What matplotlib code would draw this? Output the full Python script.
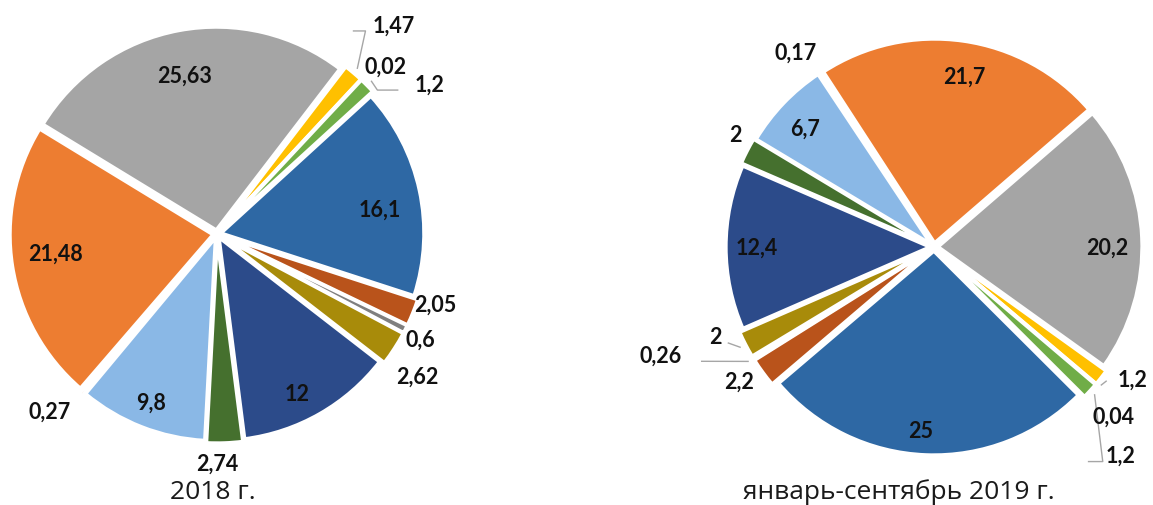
import numpy as np
import matplotlib.pyplot as plt

# ── DATA ─────────────────────────────────────────
vals_2018 = [21.48, 25.63, 1.47, 0.02, 1.2, 16.1, 2.05, 0.6, 2.62, 12, 2.74, 9.8, 0.27]
vals_2019 = [21.7, 20.2, 1.2, 0.04, 1.2, 25, 2.2, 0.26, 2, 12.4, 2, 6.7, 0.17]
title_2018 = "2018 г."
title_2019 = "январь-сентябрь 2019 г."

# ── STYLE ────────────────────────────────────────
colors = ["#ED7D31", "#A5A5A5", "#FFC000", "#5B9BD5", "#70AD47", "#2E68A4",
          "#B9531B", "#7F7F7F", "#A88B0A", "#2C4B8A", "#45702E", "#8AB8E6", "#F4B183"]
explode = [0.02, 0.02, 0.04, 0.04, 0.04, 0.02, 0.04, 0.04, 0.04, 0.02, 0.03, 0.02, 0.04]

# posicion de etiquetas: (factor de radio, ajuste de angulo en grados)
lab_2018 = [(0.80, -2), (0.80, 1), (1.35, 0), (1.17, -2), (1.28, -9.4), (0.81, -3.5),
            (1.13, 4), (1.13, -0.5), (1.21, -2.6), (0.88, -3), (1.13, -2), (0.89, 0), (1.20, -3)]
lab_2019 = [(0.85, -2), (0.85, -2.6), (1.17, 4.4), (1.21, -3), (1.37, -5.6), (0.90, -2),
            (1.16, -1.6), (1.44, -10), (1.16, -5), (0.87, 0), (1.12, -2.4), (0.86, 1), (1.17, 2)]
lead_2018 = {2: "elbow", 4: "bent"}
lead_2019 = {2: "straight", 4: "elbow", 7: "straight", 8: "straight"}

NUM_FONT = dict(family=["Lato", "DejaVu Sans"], fontsize=15.5, fontweight="bold", color="#111111")
W, H = 1153, 506
fig = plt.figure(figsize=(W / 100, H / 100), dpi=100)


def fmt(v):
    return f"{v:g}".replace(".", ",")


def pol(r, a):
    return r * np.cos(np.radians(a)), r * np.sin(np.radians(a))


def dibujar(cx, cy, R, vals, start, labs, leads, lim=1.6):
    half = lim * R
    ax = fig.add_axes([(cx - half) / W, (H - cy - half) / H, 2 * half / W, 2 * half / H])
    wedges, _ = ax.pie(vals, colors=colors, startangle=start, counterclock=False,
                       explode=explode, radius=1,
                       wedgeprops=dict(edgecolor="white", linewidth=2.5))
    ax.set_xlim(-lim, lim)
    ax.set_ylim(-lim, lim)
    ax.set_aspect("equal")
    ax.axis("off")

    for i, (w, v) in enumerate(zip(wedges, vals)):
        mid = (w.theta1 + w.theta2) / 2
        r, da = labs[i]
        lx, ly = pol(r, mid + da)
        txt = fmt(v)
        ax.text(lx, ly, txt, ha="center", va="center", **NUM_FONT)
        if i in leads:
            sx, sy = pol(1.03 + explode[i], mid)
            hw = 0.045 * len(txt) + 0.02
            right = lx > sx
            ex = lx - hw if right else lx + hw
            ey = ly - 0.03
            kind = leads[i]
            if kind == "elbow":
                xs, ys = [sx, sx + (0.04 if right else -0.04), ex], [sy, ey, ey]
            elif kind == "bent":
                xs, ys = [sx, ex - 0.1 if right else ex + 0.1, ex], [sy, ey, ey]
            else:
                xs, ys = [sx, ex], [sy, ey]
            ax.plot(xs, ys, color="#A6A6A6", lw=1)
    return ax


dibujar(217, 235, 203, vals_2018, 229.2, lab_2018, lead_2018)
dibujar(934, 248, 204, vals_2019, 123, lab_2019, lead_2019)

fig.text(213 / W, 1 / H, title_2018, ha="center", va="bottom",
         family=["Open Sans", "DejaVu Sans"], fontsize=19, color="#1a1a1a")
fig.text(899 / W, 1 / H, title_2019, ha="center", va="bottom",
         family=["Open Sans", "DejaVu Sans"], fontsize=19, color="#1a1a1a")

fig.savefig("out.png", dpi=100, facecolor="white")
